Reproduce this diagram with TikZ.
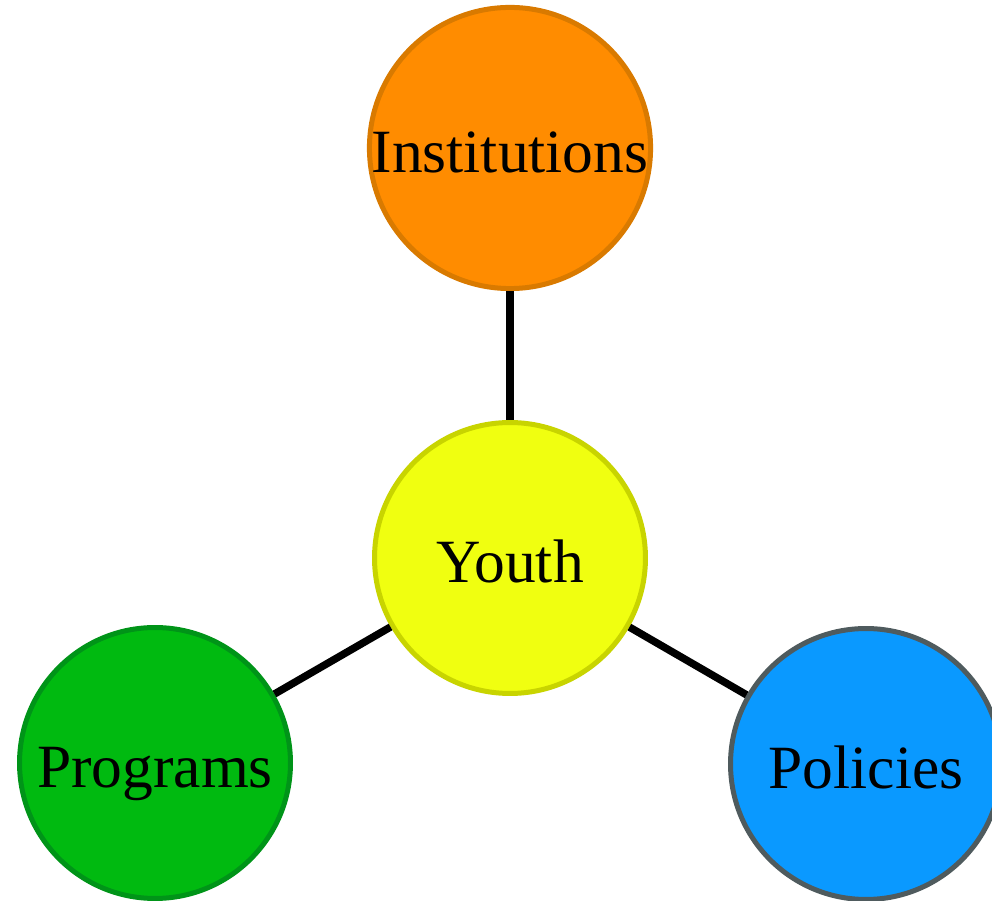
\documentclass[tikz,border=0pt]{standalone}
\usepackage{fontspec}
\setmainfont{Liberation Serif}
\definecolor{instfill}{HTML}{FF8C00}
\definecolor{instline}{HTML}{D97A00}
\definecolor{youthfill}{HTML}{F0FF10}
\definecolor{youthline}{HTML}{C8D400}
\definecolor{progfill}{HTML}{00BA10}
\definecolor{progline}{HTML}{009418}
\definecolor{polifill}{HTML}{0A99FF}
\definecolor{poliline}{HTML}{4F5B5E}
\tikzset{
  topic/.style={circle,minimum size=5.42cm,inner sep=0pt,line width=0.1cm,
    text height=1cm,text depth=0cm,
    font=\fontsize{35}{42}\selectfont},
  link/.style={line width=0.15cm}
}
\begin{document}
\begin{tikzpicture}[x=0.02cm,y=-0.02cm]
  \useasboundingbox (0,0) rectangle (992,901);
  \node[topic,draw=instline,fill=instfill] (inst) at (510,148) {Institutions};
  \node[topic,draw=youthline,fill=youthfill] (youth) at (510,558) {Youth};
  \node[topic,draw=progline,fill=progfill] (prog) at (155,763) {Programs};
  \node[topic,draw=poliline,fill=polifill] (poli) at (866,764) {Policies};

  \draw[link] (inst) -- (youth);
  \draw[link] (youth) -- (prog);
  \draw[link] (youth) -- (poli);
\end{tikzpicture}
\end{document}
